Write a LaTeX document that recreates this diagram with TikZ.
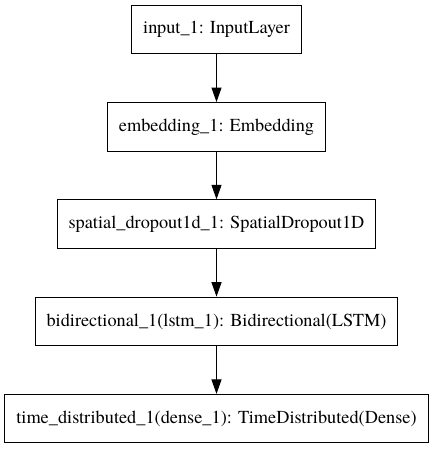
\documentclass[tikz,border=0pt]{standalone}
\usepackage{fontspec}
\usepackage{tikz}
\usetikzlibrary{arrows.meta}
\newfontfamily\layerfont{TeX Gyre Termes}
\tikzstyle{layer} = [rectangle, font=\layerfont\fontsize{18.3}{20}\selectfont, minimum height=48.5pt, inner xsep=11.5pt, text centered, draw=black, line width=1pt]
\tikzstyle{arrow} = [line width=1pt, -{Triangle[length=14.5pt,width=10pt]}]

\begin{document}
\begin{tikzpicture}[node distance=97.3pt]
\useasboundingbox (0,0) rectangle (433pt,-449pt);
\node (input) [layer] at (216.5pt,-29.5pt) {input\_1: InputLayer};
\node (embed) [layer, below of=input] {embedding\_1: Embedding};
\node (dropout) [layer, below of=embed] {spatial\_dropout1d\_1: SpatialDropout1D};
\node (bilstm) [layer, below of=dropout] {bidirectional\_1(lstm\_1): Bidirectional(LSTM)};
\node (dense) [layer, below of=bilstm] {time\_distributed\_1(dense\_1): TimeDistributed(Dense)};

\draw [arrow] (input) -- (embed);
\draw [arrow] (embed) -- (dropout);
\draw [arrow] (dropout) -- (bilstm);
\draw [arrow] (bilstm) -- (dense);
\end{tikzpicture}
\end{document}
